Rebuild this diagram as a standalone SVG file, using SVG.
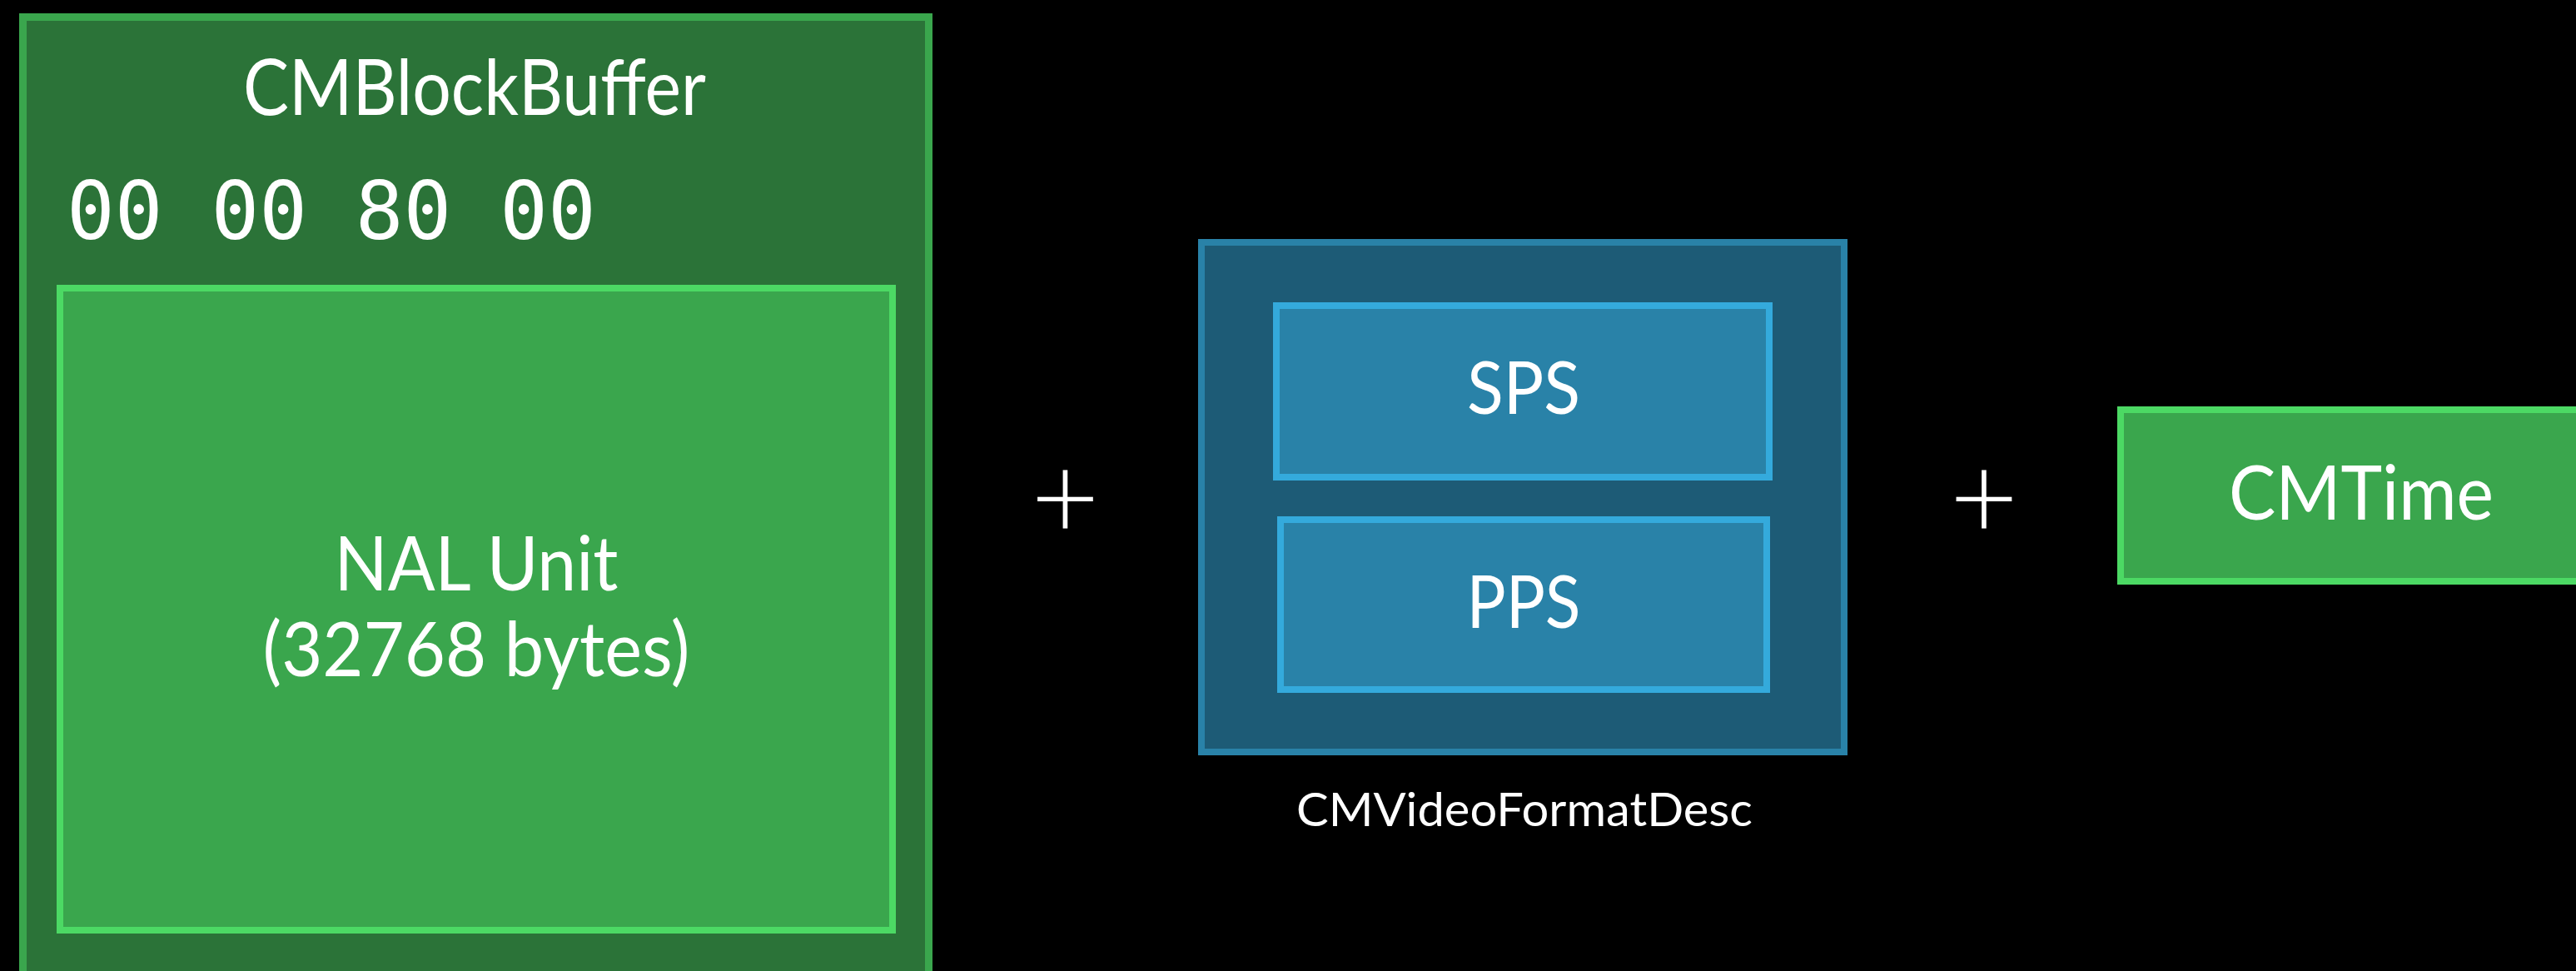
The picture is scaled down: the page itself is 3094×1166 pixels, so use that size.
<svg xmlns="http://www.w3.org/2000/svg" width="3094" height="1166" viewBox="0 0 3094 1166">
  <style>
    .label { font-family: Lato, "Liberation Sans", sans-serif; fill: #ffffff; text-anchor: middle; }
    .mono { font-family: "DejaVu Sans Mono", "Liberation Mono", monospace; fill: #ffffff; }
    .plus { font-family: Lato, "Liberation Sans", sans-serif; font-weight: 300; fill: #ffffff; text-anchor: middle; }
    .green-outer { fill: #2b7338; stroke: #3aa64d; stroke-width: 9; }
    .green-inner { fill: #3aa64d; stroke: #4cd964; stroke-width: 8; }
    .blue-outer { fill: #1d5b76; stroke: #2982a8; stroke-width: 8; }
    .blue-inner { fill: #2982a8; stroke: #34aadc; stroke-width: 8; }
  </style>

  <rect x="0" y="0" width="3094" height="1166" fill="#000000"/>

  <!-- Block buffer holding the length header and the NAL unit -->
  <g id="cmblockbuffer">
    <rect class="green-outer" x="27.5" y="20.5" width="1088" height="1200"/>
    <text class="label" x="570" y="138" font-size="93" textLength="556" lengthAdjust="spacingAndGlyphs">CMBlockBuffer</text>
    <text class="mono" x="80" y="287" font-size="96">00 00 80 00</text>
  </g>

  <g id="nal-unit">
    <rect class="green-inner" x="72" y="346" width="1000" height="771"/>
    <text class="label" x="572" y="709" font-size="92" textLength="341" lengthAdjust="spacingAndGlyphs">NAL Unit</text>
    <text class="label" x="572" y="812" font-size="92" textLength="513" lengthAdjust="spacingAndGlyphs">(32768 bytes)</text>
  </g>

  <!-- Format description with parameter sets -->
  <g id="cmvideoformatdesc">
    <rect class="blue-outer" x="1443" y="291" width="772" height="612"/>
    <text class="label" x="1831" y="992" font-size="57" textLength="548" lengthAdjust="spacingAndGlyphs">CMVideoFormatDesc</text>
  </g>

  <g id="sps">
    <rect class="blue-inner" x="1533" y="367" width="592" height="206"/>
    <text class="label" x="1830" y="497" font-size="87" textLength="136" lengthAdjust="spacingAndGlyphs">SPS</text>
  </g>

  <g id="pps">
    <rect class="blue-inner" x="1538" y="624" width="584" height="204"/>
    <text class="label" x="1830" y="754" font-size="87" textLength="137" lengthAdjust="spacingAndGlyphs">PPS</text>
  </g>

  <g id="cmtime">
    <rect class="green-inner" x="2547" y="492" width="600" height="206"/>
    <text class="label" x="2836" y="624" font-size="92" textLength="318" lengthAdjust="spacingAndGlyphs">CMTime</text>
  </g>

  <!-- Plus operators between the parts -->
  <g id="connectors">
    <text class="plus" x="1279.5" y="592" font-size="142" dominant-baseline="central">+</text>
    <text class="plus" x="2383" y="592" font-size="142" dominant-baseline="central">+</text>
  </g>
</svg>
